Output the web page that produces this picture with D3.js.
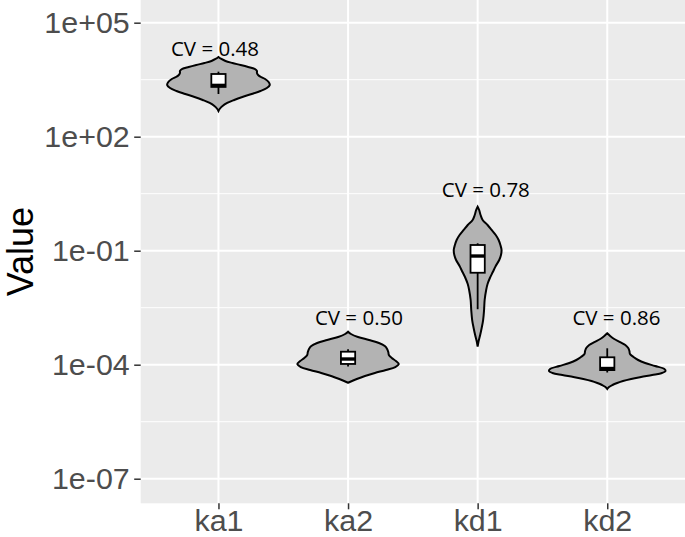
<!DOCTYPE html>
<html>
<head>
<meta charset="utf-8">
<script src="https://cdn.jsdelivr.net/npm/d3@7"></script>
<style>
  body { margin: 0; background: #fff; }
  .tick text { font-family: "Liberation Sans", Arial, sans-serif; }
</style>
</head>
<body>
<div id="content"></div>
<script>
// groups on the x axis
var categories = ["ka1", "ka2", "kd1", "kd2"];

// violin outlines: [log10 value, relative density]
var violinKa1 = [[4.097, 0], [4.045, 0.05], [3.992, 0.12], [3.939, 0.24], [3.887, 0.38], [3.834, 0.51],
    [3.782, 0.62], [3.729, 0.66], [3.676, 0.66], [3.624, 0.68], [3.571, 0.73], [3.518, 0.80],
    [3.439, 0.86], [3.361, 0.88], [3.282, 0.83], [3.203, 0.72], [3.124, 0.57], [3.045, 0.41],
    [2.966, 0.27], [2.887, 0.15], [2.808, 0.07], [2.729, 0.02], [2.676, 0]];
var violinKa2 = [[-3.132, 0], [-3.192, 0.05], [-3.271, 0.17], [-3.350, 0.36], [-3.429, 0.53], [-3.508, 0.63],
    [-3.587, 0.67], [-3.666, 0.69], [-3.745, 0.70], [-3.824, 0.75], [-3.903, 0.82], [-3.982, 0.87],
    [-4.061, 0.81], [-4.139, 0.65], [-4.218, 0.46], [-4.297, 0.29], [-4.376, 0.15], [-4.474, 0]];
var violinKd1 = [[0.158, 0], [0.071, 0.026], [-0.061, 0.05], [-0.192, 0.086], [-0.324, 0.17], [-0.455, 0.24],
    [-0.587, 0.31], [-0.718, 0.36], [-0.850, 0.39], [-0.982, 0.41], [-1.113, 0.40], [-1.245, 0.37],
    [-1.403, 0.31], [-1.561, 0.26], [-1.718, 0.21], [-1.876, 0.17], [-2.034, 0.146], [-2.297, 0.12],
    [-2.561, 0.11], [-2.824, 0.094], [-3.034, 0.069], [-3.218, 0.043], [-3.376, 0.017], [-3.526, 0]];
var violinKd2 = [[-3.174, 0], [-3.245, 0.05], [-3.324, 0.12], [-3.403, 0.22], [-3.482, 0.31], [-3.561, 0.36],
    [-3.639, 0.38], [-3.718, 0.39], [-3.797, 0.45], [-3.876, 0.53], [-3.955, 0.65], [-4.034, 0.82],
    [-4.113, 0.98], [-4.166, 1.0], [-4.218, 0.94], [-4.271, 0.77], [-4.324, 0.58], [-4.376, 0.41],
    [-4.429, 0.27], [-4.482, 0.17], [-4.534, 0.09], [-4.587, 0.03], [-4.639, 0]];
var violins = [violinKa1, violinKa2, violinKd1, violinKd2];

// box stats in log10: lower whisker, q1, median, q3, upper whisker
var boxKa1 = [3.124, 3.31, 3.35, 3.65, 3.711];
var boxKa2 = [-4.05, -3.98, -3.85, -3.658, -3.595];
var boxKd1 = [-2.54, -1.58, -1.14, -0.85, -0.805];
var boxKd2 = [-4.205, -4.142, -4.10, -3.805, -3.568];
var boxes = [boxKa1, boxKa2, boxKd1, boxKd2];

// CV annotations
var cvLabels = ["CV = 0.48", "CV = 0.50", "CV = 0.78", "CV = 0.86"];
var cvX = [0.973, 2.084, 3.063, 4.071];
var cvY = [2.1e4, 1.75e-3, 3.9, 1.75e-3];

// y axis breaks
var yBreaks = [1e5, 1e2, 1e-1, 1e-4, 1e-7];
var yMinorBreaks = [3162.3, 3.1623, 3.1623e-3, 3.1623e-6];

var W = 685, H = 537;
var panel = { left: 140.7, right: 685, top: 0, bottom: 503.3 };

var svg = d3.select("#content").append("svg")
    .attr("width", W)
    .attr("height", H);

var x = d3.scalePoint().domain(categories).range([panel.left, panel.right]).padding(0.6);
var xNum = d3.scaleLinear().domain([0.4, 4.6]).range([panel.left, panel.right]);
var y = d3.scaleLog().domain([Math.pow(10, -7.647), Math.pow(10, 5.597)]).range([panel.bottom, panel.top]);
var wScale = d3.scaleLinear().domain([0, 1]).range([0, 0.45 * x.step()]);

function fmtSci(v) {
    var e = Math.round(Math.log10(v));
    var s = e < 0 ? "-" : "+";
    var a = Math.abs(e);
    return "1e" + s + (a < 10 ? "0" + a : a);
}

// panel background
svg.append("rect")
    .attr("x", panel.left)
    .attr("y", panel.top)
    .attr("width", panel.right - panel.left)
    .attr("height", panel.bottom - panel.top)
    .attr("fill", "#EBEBEB");

// grid
var grid = svg.append("g");
grid.selectAll(".minor")
    .data(yMinorBreaks)
    .enter().append("line")
    .attr("x1", panel.left).attr("x2", panel.right)
    .attr("y1", function(d) { return y(d); })
    .attr("y2", function(d) { return y(d); })
    .attr("stroke", "#fff").attr("stroke-width", 1);
grid.selectAll(".hmajor")
    .data(yBreaks)
    .enter().append("line")
    .attr("x1", panel.left).attr("x2", panel.right)
    .attr("y1", function(d) { return y(d); })
    .attr("y2", function(d) { return y(d); })
    .attr("stroke", "#fff").attr("stroke-width", 2);
grid.selectAll(".vmajor")
    .data(categories)
    .enter().append("line")
    .attr("y1", panel.top).attr("y2", panel.bottom)
    .attr("x1", function(d) { return x(d); })
    .attr("x2", function(d) { return x(d); })
    .attr("stroke", "#fff").attr("stroke-width", 2);

// violins
var area = d3.area()
    .curve(d3.curveCatmullRom)
    .y(function(d) { return y(Math.pow(10, d[0])); });

svg.append("g").selectAll("path")
    .data(violins)
    .enter().append("path")
    .attr("d", function(d, i) {
        var cx = x(categories[i]);
        return area
            .x0(function(p) { return cx - wScale(p[1]); })
            .x1(function(p) { return cx + wScale(p[1]); })(d);
    })
    .attr("fill", "#B3B3B3")
    .attr("stroke", "#000")
    .attr("stroke-width", 2);

// boxplots
var bw = 0.11 * x.step();
var bx = svg.append("g").selectAll("g")
    .data(boxes)
    .enter().append("g");

function yl(v) { return y(Math.pow(10, v)); }

bx.append("line")
    .attr("x1", function(d, i) { return x(categories[i]); })
    .attr("x2", function(d, i) { return x(categories[i]); })
    .attr("y1", function(d) { return yl(d[0]); })
    .attr("y2", function(d) { return yl(d[1]); })
    .attr("stroke", "#000").attr("stroke-width", 1.8);
bx.append("line")
    .attr("x1", function(d, i) { return x(categories[i]); })
    .attr("x2", function(d, i) { return x(categories[i]); })
    .attr("y1", function(d) { return yl(d[3]); })
    .attr("y2", function(d) { return yl(d[4]); })
    .attr("stroke", "#000").attr("stroke-width", 1.8);
bx.append("rect")
    .attr("x", function(d, i) { return x(categories[i]) - bw / 2; })
    .attr("width", bw)
    .attr("y", function(d) { return yl(d[3]); })
    .attr("height", function(d) { return yl(d[1]) - yl(d[3]); })
    .attr("fill", "#fff")
    .attr("stroke", "#000").attr("stroke-width", 1.8);
bx.append("line")
    .attr("x1", function(d, i) { return x(categories[i]) - bw / 2; })
    .attr("x2", function(d, i) { return x(categories[i]) + bw / 2; })
    .attr("y1", function(d) { return yl(d[2]); })
    .attr("y2", function(d) { return yl(d[2]); })
    .attr("stroke", "#000").attr("stroke-width", 3.4);

// CV text
svg.append("g").selectAll("text")
    .data(cvLabels)
    .enter().append("text")
    .attr("x", function(d, i) { return xNum(cvX[i]); })
    .attr("y", function(d, i) { return y(cvY[i]); })
    .attr("dy", "0.35em")
    .attr("text-anchor", "middle")
    .style("font-family", "'Open Sans', sans-serif")
    .style("font-size", "20.5px")
    .attr("fill", "#000")
    .text(function(d) { return d; });

// axes
var yAxis = d3.axisLeft(y).tickValues(yBreaks).tickFormat(fmtSci).tickSize(6.5).tickPadding(4.5);
var gy = svg.append("g")
    .attr("class", "y axis")
    .attr("transform", "translate(" + panel.left + ",0)")
    .call(yAxis);

var xAxis = d3.axisBottom(x).tickSize(6).tickPadding(2);
var gx = svg.append("g")
    .attr("class", "x axis")
    .attr("transform", "translate(0," + panel.bottom + ")")
    .call(xAxis);

svg.selectAll(".axis .domain").remove();
svg.selectAll(".axis .tick line").attr("stroke", "#333").attr("stroke-width", 1.5);
svg.selectAll(".axis .tick text")
    .attr("fill", "#4D4D4D")
    .style("font-size", "30.4px");
gx.selectAll(".tick text").attr("dy", "0.66em");

svg.append("text")
    .attr("transform", "translate(33," + ((panel.top + panel.bottom) / 2) + ") rotate(-90)")
    .attr("text-anchor", "middle")
    .style("font-family", "'Liberation Sans', Arial, sans-serif")
    .style("font-size", "36px")
    .attr("fill", "#000")
    .text("Value");
</script>
</body>
</html>
